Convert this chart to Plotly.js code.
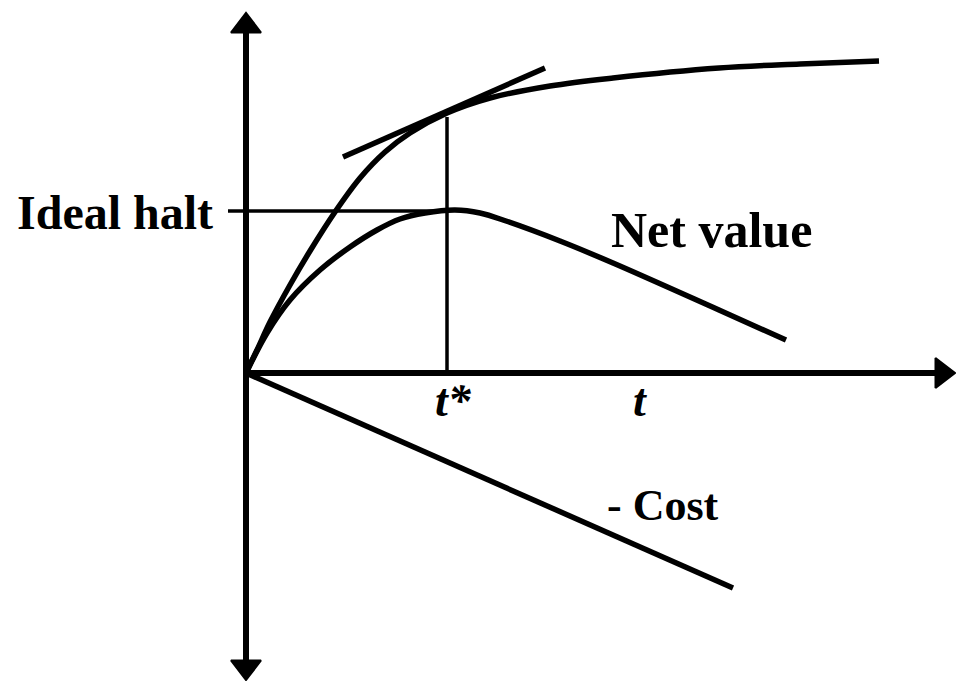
<!DOCTYPE html>
<html>
<head>
<meta charset="utf-8">
<script src="https://cdn.plot.ly/plotly-3.0.1.min.js"></script>
<style>html,body{margin:0;padding:0;background:#fff;}#chart{width:956px;height:681px;}</style>
</head>
<body>
<div id="chart"></div>
<script>
// Value (gross benefit) curve
const valueT = [0, 0.22, 0.48, 0.88, 1.28, 1.78, 2.28, 2.78, 3.28, 4.02, 4.88, 6.08, 7.34, 9.46, 11.08, 12.66];
const valueY = [0, 0.46, 1.02, 1.76, 2.44, 3.22, 3.90, 4.42, 4.80, 5.20, 5.50, 5.74, 5.90, 6.10, 6.18, 6.24];

// Net value curve
const netT = [0, 0.42, 0.88, 1.48, 2.08, 2.62, 3.08, 3.58, 4.18, 4.68, 5.20, 6.28, 7.34, 9.46, 10.80];
const netY = [0, 0.80, 1.46, 2.06, 2.52, 2.86, 3.08, 3.20, 3.26, 3.20, 3.04, 2.64, 2.20, 1.26, 0.66];

// -Cost line
const costT = [0, 9.74];
const costY = [0, -4.30];

// Tangent line at t*
const tangentT = [1.94, 5.98];
const tangentY = [4.32, 6.10];

// Optimal stopping time and ideal halt level
const tStar = 4.02;
const tStarTop = 5.12;
const idealHalt = 3.24;
const idealHaltStart = -0.36;

// Axis extents (arrow tips)
const yTop = 7.20, yBottom = -6.14, xRight = 14.18;
const arrowHalf = 0.26;

// Labels
const labelText = ["Ideal halt", "Net value", "- Cost", "<i>t*</i>", "<i>t</i>"];
const labelX = [-0.62, 9.30, 8.34, 4.14, 7.88];
const labelY = [3.22, 2.86, -2.64, -0.54, -0.54];

const black = "#000";
const traces = [
  {x: [0, 0], y: [yBottom + arrowHalf, yTop - arrowHalf], mode: "lines", line: {color: black, width: 6}},
  {x: [0, xRight - arrowHalf], y: [0, 0], mode: "lines", line: {color: black, width: 6}},
  {x: [0], y: [yTop - arrowHalf], mode: "markers", marker: {symbol: "triangle-up", size: 26, color: black, line: {color: black, width: 2}}},
  {x: [0], y: [yBottom + arrowHalf], mode: "markers", marker: {symbol: "triangle-down", size: 26, color: black, line: {color: black, width: 2}}},
  {x: [xRight - arrowHalf], y: [0], mode: "markers", marker: {symbol: "triangle-right", size: 26, color: black, line: {color: black, width: 2}}},
  {x: valueT, y: valueY, mode: "lines", line: {color: black, width: 5.5, shape: "spline", smoothing: 1}},
  {x: netT, y: netY, mode: "lines", line: {color: black, width: 5.5, shape: "spline", smoothing: 1}},
  {x: costT, y: costY, mode: "lines", line: {color: black, width: 5.5}},
  {x: tangentT, y: tangentY, mode: "lines", line: {color: black, width: 5.5}},
  {x: [tStar, tStar], y: [0, tStarTop], mode: "lines", line: {color: black, width: 3.5}},
  {x: [idealHaltStart, tStar], y: [idealHalt, idealHalt], mode: "lines", line: {color: black, width: 3.5}}
];

const fonts = [
  {family: "Liberation Serif", size: 48, color: black, weight: "bold"},
  {family: "Liberation Serif", size: 50, color: black, weight: "bold"},
  {family: "Liberation Serif", size: 44, color: black, weight: "bold"},
  {family: "Liberation Serif", size: 46, color: black, weight: "bold"},
  {family: "Liberation Serif", size: 46, color: black, weight: "bold"}
];
const anchors = ["right", "center", "center", "center", "center"];

const annotations = labelText.map((t, i) => ({
  text: "<b>" + t + "</b>", x: labelX[i], y: labelY[i], xref: "x", yref: "y",
  xanchor: anchors[i], yanchor: "middle", showarrow: false, font: fonts[i]
}));

const layout = {
  width: 956, height: 681,
  margin: {l: 0, r: 0, t: 0, b: 0},
  paper_bgcolor: "#fff", plot_bgcolor: "#fff",
  showlegend: false,
  xaxis: {range: [-4.92, 14.2], visible: false, fixedrange: true},
  yaxis: {range: [-6.16, 7.46], visible: false, fixedrange: true},
  annotations: annotations
};

Plotly.newPlot("chart", traces, layout, {staticPlot: true, displayModeBar: false});
</script>
</body>
</html>
